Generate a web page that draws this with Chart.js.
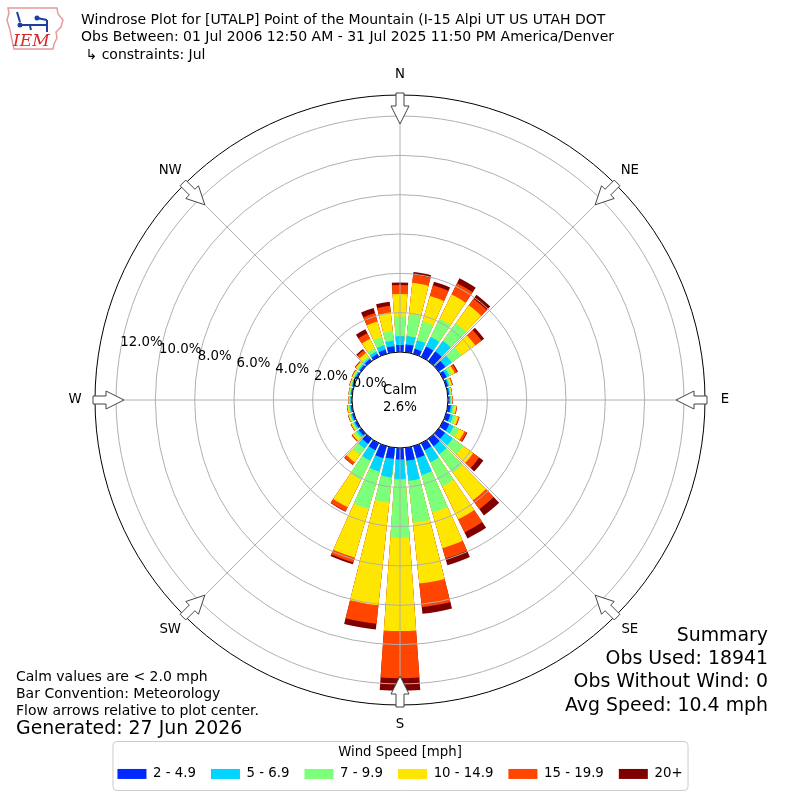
<!DOCTYPE html>
<html>
<head>
<meta charset="utf-8">
<title>Windrose UTALP</title>
<script src="https://cdn.jsdelivr.net/npm/chart.js@4.4.1/dist/chart.umd.min.js"></script>
<style>
  html, body { margin: 0; padding: 0; background: #fff; }
  #wrap { width: 800px; height: 800px; }
</style>
</head>
<body>
<div id="wrap"><canvas id="rose" width="800" height="800"></canvas></div>
<script>
const FONT = "'DejaVu Sans', sans-serif";

/* ---------- data (percent of obs, per direction bin) ---------- */
const directions = [0, 10, 20, 30, 40, 50, 60, 70, 80, 90, 100, 110,
                    120, 130, 140, 150, 160, 170, 180, 190, 200, 210, 220, 230,
                    240, 250, 260, 270, 280, 290, 300, 310, 320, 330, 340, 350];

const speedBins = ['2 - 4.9', '5 - 6.9', '7 - 9.9', '10 - 14.9', '15 - 19.9', '20+'];
const binColors = ['#0028ff', '#00d4ff', '#7cff79', '#ffe600', '#ff4500', '#800000'];

const pct2to5   = [0.36, 0.40, 0.27, 0.59, 0.61, 0.41, 0.20, 0.10, 0.07, 0.08, 0.15, 0.22,
                   0.35, 0.39, 0.46, 0.40, 0.63, 0.66, 0.58, 0.57, 0.63, 0.40, 0.31, 0.15,
                   0.10, 0.09, 0.08, 0.06, 0.06, 0.07, 0.08, 0.10, 0.13, 0.16, 0.23, 0.31];
const pct5to7   = [0.45, 0.43, 0.45, 0.53, 0.66, 0.40, 0.16, 0.07, 0.05, 0.05, 0.10, 0.15,
                   0.25, 0.49, 0.51, 0.68, 0.90, 1.03, 1.01, 0.95, 0.72, 0.59, 0.30, 0.13,
                   0.08, 0.07, 0.06, 0.04, 0.04, 0.05, 0.06, 0.08, 0.07, 0.14, 0.22, 0.29];
const pct7to10  = [0.99, 1.12, 0.99, 1.04, 1.12, 0.61, 0.15, 0.07, 0.05, 0.05, 0.10, 0.15,
                   0.30, 0.66, 1.17, 1.37, 1.98, 2.15, 2.97, 1.28, 1.98, 1.07, 0.41, 0.14,
                   0.08, 0.07, 0.06, 0.04, 0.04, 0.05, 0.06, 0.08, 0.10, 0.19, 0.44, 0.49];
const pct10to15 = [1.15, 1.60, 1.35, 1.37, 1.12, 0.87, 0.15, 0.07, 0.04, 0.04, 0.09, 0.13,
                   0.30, 0.62, 1.72, 1.86, 1.89, 3.10, 4.75, 5.26, 2.57, 1.57, 0.45, 0.12,
                   0.06, 0.06, 0.05, 0.04, 0.04, 0.05, 0.06, 0.08, 0.21, 0.53, 0.82, 0.94];
const pct15to20 = [0.46, 0.41, 0.57, 0.64, 0.41, 0.40, 0.13, 0.04, 0.02, 0.02, 0.03, 0.05,
                   0.13, 0.38, 0.56, 0.74, 0.55, 1.21, 2.40, 0.94, 0.25, 0.23, 0.16, 0.05,
                   0.03, 0.02, 0.02, 0.01, 0.01, 0.02, 0.03, 0.04, 0.18, 0.32, 0.45, 0.35];
const pct20plus = [0.13, 0.14, 0.19, 0.28, 0.25, 0.16, 0.05, 0.01, 0.00, 0.01, 0.01, 0.01,
                   0.04, 0.26, 0.40, 0.34, 0.35, 0.34, 0.63, 0.30, 0.10, 0.02, 0.02, 0.01,
                   0.01, 0.01, 0.01, 0.01, 0.01, 0.01, 0.01, 0.02, 0.07, 0.23, 0.27, 0.20];

const rTicks = [0, 2, 4, 6, 8, 10, 12];
const compassLabels = ['N', 'NE', 'E', 'SE', 'S', 'SW', 'W', 'NW'];

const titleLines = [
  'Windrose Plot for [UTALP] Point of the Mountain (I-15 Alpi UT US UTAH DOT',
  'Obs Between: 01 Jul 2006 12:50 AM - 31 Jul 2025 11:50 PM America/Denver',
  ' \u21b3 constraints: Jul'
];
const noteLines = ['Calm values are < 2.0 mph', 'Bar Convention: Meteorology',
                   'Flow arrows relative to plot center.'];
const generatedText = 'Generated: 27 Jun 2026';
const summaryLines = ['Summary', 'Obs Used: 18941', 'Obs Without Wind: 0', 'Avg Speed: 10.4 mph'];
const calmText = ['Calm', '2.6%'];

const speedSeries = [pct2to5, pct5to7, pct7to10, pct10to15, pct15to20, pct20plus];

/* ---------- polar geometry ---------- */
const BAR_DEG = 8, GAP_DEG = 2;      // each 10 deg bin: 8 deg bar + 2 deg gap
const R_MIN = -2.44, R_MAX = 13.07;   // negative min leaves room for the calm circle

// stacked totals: dataset k holds sum of bins 0..k, gap slots get 0
function stackedUpTo (k) {
  const out = [];
  directions.forEach((d, i) => {
    let s = 0;
    for (let j = 0; j <= k; j++) s += speedSeries[j][i];
    out.push(+s.toFixed(3), 0);
  });
  return out;
}

const datasets = speedBins.map((label, k) => ({
  label,
  data            : stackedUpTo(k),
  backgroundColor : directions.flatMap(() => [binColors[k], 'rgba(0,0,0,0)']),
  borderWidth     : 0,
  angle           : directions.flatMap(() => [BAR_DEG, GAP_DEG])
}));

/* ---------- helpers ---------- */
function font (size, extra) { return (extra ? extra + ' ' : '') + size + 'px ' + FONT; }

function drawArrow (ctx, cx, cy, deg, rOut) {
  // outline arrow on the rim pointing toward the centre
  const a = (deg - 90) * Math.PI / 180;
  const ux = -Math.cos(a), uy = -Math.sin(a);   // inward
  const vx = -uy, vy = ux;
  const ox = cx + rOut * Math.cos(a), oy = cy + rOut * Math.sin(a);
  const pts = [[0, -4], [13, -4], [13, -9], [31, 0], [13, 9], [13, 4], [0, 4]];
  ctx.beginPath();
  pts.forEach(([u, v], i) => {
    const x = ox + u * ux + v * vx, y = oy + u * uy + v * vy;
    i ? ctx.lineTo(x, y) : ctx.moveTo(x, y);
  });
  ctx.closePath();
  ctx.fillStyle = '#ffffff';
  ctx.fill();
  ctx.strokeStyle = '#444444';
  ctx.lineWidth = 1;
  ctx.stroke();
}

function roundBox (ctx, x, y, w, h, r) {
  ctx.beginPath();
  ctx.moveTo(x + r, y);
  ctx.arcTo(x + w, y, x + w, y + h, r);
  ctx.arcTo(x + w, y + h, x, y + h, r);
  ctx.arcTo(x, y + h, x, y, r);
  ctx.arcTo(x, y, x + w, y, r);
  ctx.closePath();
}

function drawLogo (ctx) {
  ctx.save();
  // state outline
  ctx.strokeStyle = '#e79a9a';
  ctx.lineWidth = 1.5;
  ctx.beginPath();
  ctx.moveTo(8, 8); ctx.lineTo(57, 8); ctx.lineTo(58, 14); ctx.lineTo(63, 20);
  ctx.lineTo(61, 27); ctx.lineTo(56, 32); ctx.lineTo(57, 38); ctx.lineTo(54, 44);
  ctx.lineTo(53, 49); ctx.lineTo(14, 49); ctx.lineTo(12, 40); ctx.lineTo(10, 30);
  ctx.lineTo(7, 20); ctx.lineTo(9, 13); ctx.closePath();
  ctx.stroke();
  // network glyph
  ctx.strokeStyle = '#1d3f9e';
  ctx.fillStyle = '#1d3f9e';
  ctx.lineWidth = 2;
  ctx.beginPath();
  ctx.moveTo(20, 25); ctx.lineTo(48, 25);
  ctx.moveTo(17, 12); ctx.lineTo(20, 22);
  ctx.moveTo(37, 18); ctx.lineTo(47, 20);
  ctx.moveTo(47, 20); ctx.lineTo(47, 32);
  ctx.moveTo(30, 26); ctx.lineTo(31, 30);
  ctx.stroke();
  ctx.beginPath(); ctx.arc(20, 25, 2.5, 0, Math.PI * 2); ctx.fill();
  ctx.beginPath(); ctx.arc(37, 18, 2.5, 0, Math.PI * 2); ctx.fill();
  // letters
  ctx.fillStyle = '#d42a2a';
  ctx.font = 'italic 17px "DejaVu Serif", "Liberation Serif", serif';
  ctx.textAlign = 'left';
  ctx.textBaseline = 'alphabetic';
  ctx.fillText('IEM', 13, 46);
  ctx.restore();
}

/* ---------- plugins ---------- */
const legendHeight = {
  id: 'legendHeight',
  beforeInit (chart) {
    const fit = chart.legend.fit;
    chart.legend.fit = function () { fit.call(this); this.height = 95; };
  }
};

const roseDecor = {
  id: 'roseDecor',
  afterDatasetsDraw (chart) {
    const r = chart.scales.r, ctx = chart.ctx;
    ctx.save();
    ctx.strokeStyle = '#b0b0b0';
    ctx.lineWidth = 1;
    for (let k = 0; k < 8; k++) {
      const a = (k * 45 - 90) * Math.PI / 180;
      ctx.beginPath();
      ctx.moveTo(r.xCenter, r.yCenter);
      ctx.lineTo(r.xCenter + r.drawingArea * Math.cos(a), r.yCenter + r.drawingArea * Math.sin(a));
      ctx.stroke();
    }
    ctx.restore();
  },
  afterDraw (chart) {
    const r = chart.scales.r, ctx = chart.ctx;
    const cx = r.xCenter, cy = r.yCenter;
    const r0 = r.getDistanceFromCenterForValue(0);
    ctx.save();

    // calm circle
    ctx.beginPath();
    ctx.arc(cx, cy, r0, 0, Math.PI * 2);
    ctx.fillStyle = '#ffffff';
    ctx.fill();
    ctx.strokeStyle = '#000000';
    ctx.lineWidth = 1;
    ctx.stroke();
    ctx.fillStyle = '#000000';
    ctx.font = font(13.3);
    ctx.textAlign = 'center';
    ctx.textBaseline = 'middle';
    ctx.fillText(calmText[0], cx, cy - 9);
    ctx.fillText(calmText[1], cx, cy + 8);

    // radial tick labels, along a ray 10 deg above west
    const t = 10 * Math.PI / 180;
    ctx.textAlign = 'left';
    rTicks.forEach(v => {
      const d = r.getDistanceFromCenterForValue(v);
      ctx.fillText(v.toFixed(1) + '%', cx - d * Math.cos(t), cy - d * Math.sin(t) - 8);
    });

    // compass labels and flow arrows
    ctx.textAlign = 'center';
    compassLabels.forEach((lab, k) => {
      const a = (k * 45 - 90) * Math.PI / 180;
      ctx.fillStyle = '#000000';
      ctx.font = font(13.3);
      ctx.fillText(lab, cx + 325 * Math.cos(a), cy + 325 * Math.sin(a));
      drawArrow(ctx, cx, cy, k * 45, r.drawingArea + 2);
    });

    // header
    drawLogo(ctx);
    ctx.fillStyle = '#000000';
    ctx.font = font(14);
    ctx.textAlign = 'left';
    ctx.textBaseline = 'middle';
    titleLines.forEach((s, i) => ctx.fillText(s, 81, 20 + i * 17.5));

    // notes, bottom left
    noteLines.forEach((s, i) => ctx.fillText(s, 16, 677 + i * 17));
    ctx.font = font(18.9);
    ctx.fillText(generatedText, 16, 729);

    // summary, bottom right
    ctx.textAlign = 'right';
    summaryLines.forEach((s, i) => ctx.fillText(s, 768, 636 + i * 23.2));

    // legend frame
    const lg = chart.legend, hb = lg.legendHitBoxes;
    if (hb && hb.length) {
      const last = hb[hb.length - 1];
      const x0 = hb[0].left - 5, x1 = last.left + last.width + 5;
      roundBox(ctx, x0 + 0.5, lg.top + 36.5, x1 - x0, 49, 4);
      ctx.strokeStyle = '#cccccc';
      ctx.lineWidth = 1;
      ctx.stroke();
    }
    ctx.restore();
  }
};

/* ---------- chart ---------- */
new Chart(document.getElementById('rose'), {
  type: 'polarArea',
  data: {
    labels  : directions.flatMap(d => [d + '\u00b0', '']),
    datasets: datasets
  },
  options: {
    responsive: false,
    animation : false,
    layout: { padding: { top: 95, left: 95, right: 95, bottom: 0 } },
    scales: {
      r: {
        min        : R_MIN,
        max        : R_MAX,
        bounds     : 'data',
        startAngle : -BAR_DEG / 2,
        afterBuildTicks: axis => {
          axis.ticks = rTicks.concat([R_MAX]).map(v => ({ value: v }));
        },
        ticks      : { display: false },
        pointLabels: { display: false },
        angleLines : { display: false },
        grid: {
          z        : 1,
          circular : true,
          lineWidth: 1,
          color    : ctx => (ctx.tick && ctx.tick.value > 12.5) ? '#000000' : '#b0b0b0'
        }
      }
    },
    plugins: {
      tooltip: { enabled: false },
      legend : {
        position: 'bottom',
        onClick : null,
        title: {
          display: true,
          text   : 'Wind Speed [mph]',
          color  : '#000000',
          font   : { family: FONT, size: 13.3, lineHeight: 1 },
          padding: { top: 41, bottom: -7 }
        },
        labels: {
          boxWidth : 29,
          boxHeight: 10,
          padding  : 15,
          color    : '#000000',
          font     : { family: FONT, size: 13.3 },
          generateLabels: chart => chart.data.datasets.map((ds, i) => ({
            text: ds.label, fillStyle: binColors[i], strokeStyle: binColors[i],
            lineWidth: 0, hidden: false, datasetIndex: i
          }))
        }
      }
    }
  },
  plugins: [legendHeight, roseDecor]
});
</script>
</body>
</html>
